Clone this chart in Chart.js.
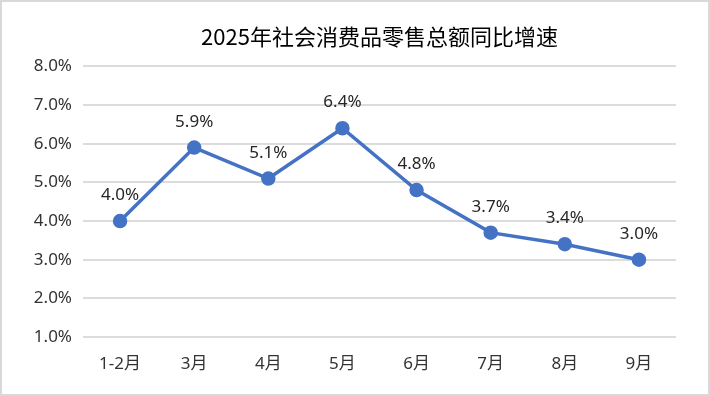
<!DOCTYPE html>
<html>
<head>
<meta charset="utf-8">
<script src="https://cdn.jsdelivr.net/npm/chart.js@4"></script>
<style>
  body { margin: 0; background: #fff; }
  #wrap { width: 710px; height: 396px; box-sizing: border-box; border: 2px solid #d9d9d9; position: relative; }
  canvas { position: absolute; left: -2px; top: -2px; }
</style>
</head>
<body>
<div id="wrap"><canvas id="chart" width="710" height="396"></canvas></div>
<script>
const titleText = "2025年社会消费品零售总额同比增速";
const months = ["1-2月", "3月", "4月", "5月", "6月", "7月", "8月", "9月"];
const growth = [4.0, 5.9, 5.1, 6.4, 4.8, 3.7, 3.4, 3.0];

// value labels above each point
const labelPlugin = {
    id: "pointLabels",
    afterDatasetsDraw(chart) {
        const ctx = chart.ctx;
        const meta = chart.getDatasetMeta(0);
        ctx.save();
        ctx.font = "17px 'Noto Sans', 'Noto Sans CJK SC', sans-serif";
        ctx.fillStyle = "#262626";
        ctx.textAlign = "center";
        ctx.textBaseline = "alphabetic";
        meta.data.forEach((pt, i) => {
            ctx.fillText(growth[i].toFixed(1) + "%", pt.x, pt.y - 21);
        });
        ctx.restore();
    }
};

new Chart(document.getElementById("chart"), {
    type: "line",
    data: {
        labels: months,
        datasets: [{
            data: growth,
            borderColor: "#4472c4",
            backgroundColor: "#4472c4",
            borderWidth: 3.5,
            pointRadius: 5.5,
            pointHoverRadius: 5.5,
            tension: 0
        }]
    },
    options: {
        responsive: false,
        animation: false,
        layout: { padding: { left: 10, right: 34, top: 10, bottom: 0 } },
        plugins: {
            legend: { display: false },
            tooltip: { enabled: false },
            title: {
                display: true,
                fullSize: false,
                text: titleText,
                color: "#000",
                font: { family: "'Noto Sans CJK SC', sans-serif", size: 22, weight: "normal" },
                padding: { top: 13, bottom: 17 }
            }
        },
        scales: {
            x: {
                offset: true,
                afterFit: s => { s.height = 59; },
                grid: { display: false },
                border: { display: false },
                ticks: {
                    color: "#333",
                    font: { family: "'Noto Sans', 'Noto Sans CJK SC', sans-serif", size: 17 },
                    padding: 9
                }
            },
            y: {
                min: 1,
                max: 8,
                afterFit: s => { s.width = 73; },
                grid: { color: "#dcdcdc", lineWidth: 2, drawTicks: false },
                border: { display: false },
                ticks: {
                    stepSize: 1,
                    color: "#333",
                    font: { family: "'Noto Sans', sans-serif", size: 17 },
                    padding: 11,
                    callback: v => v.toFixed(1) + "%"
                }
            }
        }
    },
    plugins: [labelPlugin]
});
</script>
</body>
</html>
